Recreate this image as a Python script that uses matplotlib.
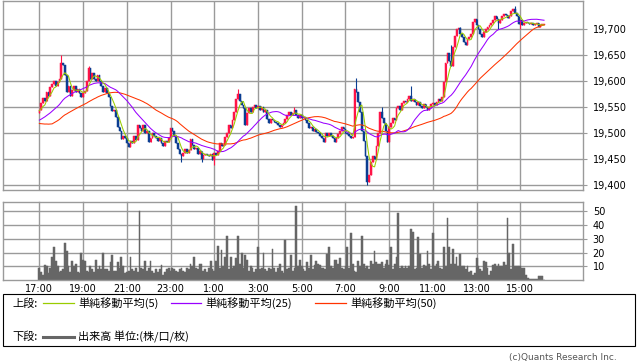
import numpy as np
import pandas as pd
import matplotlib
matplotlib.use("Agg")
import matplotlib.pyplot as plt
from matplotlib.patches import Rectangle
from matplotlib.lines import Line2D
from matplotlib.ticker import FuncFormatter

# 5-minute bars from 17:00 to the next afternoon

# closes before 17:00, only used to warm up the moving averages
prev_close = [19578, 19582, 19580, 19576, 19584, 19580, 19578,
              19500, 19492, 19488, 19485, 19480, 19478, 19482, 19486, 19480,
              19476, 19484, 19488, 19482, 19486, 19490, 19484, 19488, 19492,
              19510, 19512, 19508, 19515, 19512, 19518, 19515, 19520, 19516,
              19522, 19518, 19524, 19520, 19526, 19522, 19528, 19530, 19526,
              19532, 19535, 19540, 19545, 19548, 19538]

c17 = [19545, 19558, 19568, 19562, 19580, 19572, 19588, 19595, 19600, 19590, 19598, 19605]
c18 = [19635, 19632, 19612, 19580, 19590, 19572, 19583, 19590, 19580, 19585, 19578, 19570]
c19 = [19578, 19582, 19600, 19625, 19605, 19615, 19605, 19600, 19612, 19600, 19590, 19580]
c20 = [19586, 19578, 19570, 19552, 19542, 19545, 19532, 19512, 19505, 19488, 19495, 19490]
c21 = [19480, 19473, 19485, 19480, 19494, 19486, 19515, 19510, 19505, 19515, 19500, 19505]
c22 = [19482, 19490, 19500, 19495, 19490, 19485, 19490, 19480, 19475, 19485, 19482, 19490]
c23 = [19510, 19505, 19495, 19480, 19470, 19460, 19455, 19462, 19470, 19462, 19468, 19488]
c00 = [19478, 19470, 19472, 19460, 19465, 19450, 19458, 19460, 19458, 19455, 19460, 19448]
c01 = [19462, 19458, 19465, 19480, 19475, 19478, 19492, 19500, 19515, 19510, 19525, 19540]
c02 = [19565, 19575, 19562, 19555, 19548, 19515, 19538, 19548, 19540, 19550, 19555, 19548]
c03 = [19552, 19545, 19550, 19540, 19545, 19528, 19520, 19528, 19525, 19522, 19520, 19515]
c04 = [19512, 19515, 19520, 19528, 19535, 19540, 19535, 19538, 19545, 19535, 19530, 19535]
c05 = [19530, 19532, 19525, 19520, 19510, 19512, 19505, 19508, 19502, 19500, 19495, 19490]
c06 = [19482, 19500, 19495, 19500, 19495, 19490, 19482, 19490, 19498, 19505, 19512, 19508]
c07 = [19500, 19498, 19495, 19490, 19492, 19585, 19580, 19560, 19540, 19505, 19485, 19455]
c08 = [19405, 19420, 19445, 19455, 19450, 19475, 19500, 19540, 19530, 19520, 19505, 19482]
c09 = [19512, 19520, 19530, 19525, 19548, 19552, 19545, 19558, 19562, 19560, 19565, 19572]
c10 = [19562, 19565, 19560, 19555, 19560, 19552, 19548, 19556, 19550, 19545, 19550, 19556]
c11 = [19558, 19555, 19560, 19565, 19562, 19570, 19598, 19635, 19655, 19638, 19630, 19665]
c12 = [19688, 19700, 19702, 19690, 19685, 19675, 19670, 19682, 19685, 19690, 19715, 19720]
c13 = [19708, 19700, 19690, 19685, 19695, 19700, 19705, 19708, 19712, 19718, 19726, 19720]
c14 = [19712, 19718, 19726, 19730, 19728, 19722, 19725, 19735, 19740, 19732, 19725, 19710]
c15 = [19718, 19708, 19712, 19715, 19712, 19710, 19712, 19708, 19710, 19712, 19705, 19708, 19708, 19708]

v17 = [9, 6, 4, 11, 10, 5, 9, 17, 24, 14, 10, 6]
v18 = [7, 8, 27, 21, 10, 6, 14, 10, 12, 6, 5, 20]
v19 = [15, 14, 7, 6, 10, 8, 6, 15, 8, 10, 8, 20]
v20 = [8, 8, 7, 13, 18, 7, 7, 13, 9, 17, 10, 5]
v21 = [6, 7, 17, 8, 7, 9, 6, 50, 9, 8, 14, 7]
v22 = [9, 14, 7, 5, 8, 6, 8, 11, 4, 6, 8, 9]
v23 = [7, 9, 8, 7, 6, 8, 9, 7, 6, 9, 8, 12]
v00 = [10, 17, 9, 8, 12, 12, 7, 8, 6, 9, 14, 8]
v01 = [7, 14, 25, 9, 22, 10, 17, 32, 8, 17, 9, 10]
v02 = [16, 32, 12, 20, 9, 18, 15, 7, 10, 9, 6, 8]
v03 = [24, 8, 9, 20, 8, 7, 9, 8, 23, 9, 6, 9]
v04 = [12, 7, 5, 29, 8, 9, 18, 7, 9, 54, 10, 15]
v05 = [10, 8, 7, 13, 9, 18, 8, 11, 14, 12, 11, 9]
v06 = [9, 8, 19, 24, 10, 9, 15, 15, 12, 16, 9, 8]
v07 = [10, 24, 9, 34, 12, 7, 6, 14, 10, 32, 12, 9]
v08 = [10, 8, 14, 12, 21, 13, 12, 12, 13, 9, 12, 15]
v09 = [11, 24, 8, 12, 17, 49, 9, 10, 9, 10, 9, 10]
v10 = [37, 35, 8, 9, 31, 19, 9, 11, 10, 21, 12, 8]
v11 = [34, 10, 12, 14, 9, 8, 24, 10, 45, 24, 12, 23]
v12 = [12, 17, 10, 19, 10, 10, 8, 10, 6, 7, 4, 5]
v13 = [16, 10, 8, 7, 14, 13, 9, 4, 7, 11, 12, 10]
v14 = [12, 10, 10, 13, 11, 45, 20, 8, 26, 10, 10, 10]
v15 = [10, 9, 9, 4, 2, 1, 1, 1, 1, 1, 3, 3, 3, 0]

# wicks that stick out (bar index, price)
hi_idx = [12, 27, 109, 140, 174, 188, 204, 226, 231, 261]
hi_val = [19650, 19630, 19585, 19550, 19606, 19550, 19590, 19670, 19705, 19745]
lo_idx = [78, 89, 96, 180, 252, 264]
lo_val = [19444, 19444, 19438, 19400, 19700, 19700]

tick_labels = ["17:00", "19:00", "21:00", "23:00", "1:00", "3:00",
               "5:00", "7:00", "9:00", "11:00", "13:00", "15:00"]
bars_per_tick = 24

close = (c17 + c18 + c19 + c20 + c21 + c22 + c23 + c00 + c01 + c02 + c03 + c04 +
         c05 + c06 + c07 + c08 + c09 + c10 + c11 + c12 + c13 + c14 + c15)
volume = (v17 + v18 + v19 + v20 + v21 + v22 + v23 + v00 + v01 + v02 + v03 + v04 +
          v05 + v06 + v07 + v08 + v09 + v10 + v11 + v12 + v13 + v14 + v15)

UP = "#ff1447"
DOWN = "#0b3d91"
GRID = "#9a9a9a"
JP = ["Noto Sans CJK JP", "DejaVu Sans"]

c = np.array(close, dtype=float)
o = np.concatenate([[prev_close[-1]], c[:-1]])
hi = np.maximum(o, c)
lo = np.minimum(o, c)
for k, v in zip(hi_idx, hi_val):
    hi[k] = v
for k, v in zip(lo_idx, lo_val):
    lo[k] = v
x = np.arange(len(c))
col = np.where(c >= o, UP, DOWN)

s = pd.Series(prev_close + close, dtype=float)
n0 = len(prev_close)
ma5 = s.rolling(5).mean().to_numpy()[n0:]
ma25 = s.rolling(25).mean().to_numpy()[n0:]
ma50 = s.rolling(50).mean().to_numpy()[n0:]

W, H = 638, 362
fig = plt.figure(figsize=(W / 100, H / 100), dpi=100)
fig.patch.set_facecolor("white")

x0, x1 = 3.3, 583
ax = fig.add_axes([x0 / W, 1 - 190 / H, (x1 - x0) / W, (190 - 0.5) / H])
axv = fig.add_axes([x0 / W, 1 - 280.3 / H, (x1 - x0) / W, (280.3 - 201.5) / H])

xmin, xmax = -19.8, 298.4
tick_pos = np.arange(len(tick_labels)) * bars_per_tick

# price panel
ax.bar(x, np.maximum(np.abs(c - o), 1.5), bottom=np.minimum(o, c), width=0.9,
       color=col, edgecolor=col, linewidth=0.35, zorder=2)
ax.vlines(x, lo, hi, colors=col, linewidth=0.8, zorder=2)
ax.plot(x, ma50, color="#ff3300", linewidth=0.75, zorder=3)
ax.plot(x, ma25, color="#9900ff", linewidth=0.75, zorder=3)
ax.plot(x, ma5, color="#99cc00", linewidth=0.75, zorder=4)

ax.set_xlim(xmin, xmax)
ax.set_ylim(19390.4, 19755.5)
ax.set_yticks(np.arange(19400, 19701, 50))
ax.yaxis.set_major_formatter(FuncFormatter(lambda v, p: f"{v:,.0f}"))
ax.yaxis.tick_right()
ax.set_xticks(tick_pos)
ax.set_xticklabels([])
ax.tick_params(axis="x", length=0)
ax.tick_params(axis="y", length=3, color=GRID, labelsize=7, pad=4)
ax.grid(True, color=GRID, linewidth=1.0)
ax.set_axisbelow(True)
for sp in ax.spines.values():
    sp.set_color(GRID)
    sp.set_linewidth(1.0)

# volume panel
axv.bar(x, volume, width=1.0, color="#666666", edgecolor="#666666",
        linewidth=0.35, zorder=2)
axv.set_xlim(xmin, xmax)
axv.set_ylim(0, 57)
axv.set_yticks([10, 20, 30, 40, 50])
axv.yaxis.tick_right()
axv.set_xticks(tick_pos)
axv.set_xticklabels(tick_labels)
axv.tick_params(axis="x", length=0, labelsize=7, pad=3)
axv.tick_params(axis="y", length=3, color=GRID, labelsize=7, pad=4)
axv.grid(True, color=GRID, linewidth=1.0)
axv.set_axisbelow(True)
for sp in axv.spines.values():
    sp.set_color(GRID)
    sp.set_linewidth(1.0)

# legend box
fig.add_artist(Rectangle((x0 / W, 1 - 346 / H), (635 - x0) / W, (346 - 294.3) / H,
                         transform=fig.transFigure, fill=False,
                         edgecolor="black", linewidth=0.8))

def fx(px):
    return px / W

def fy(py):
    return 1 - py / H

row1, row2 = 303.3, 336.7
fig.text(fx(12), fy(row1), "上段:", family=JP, fontsize=8, va="center")
for lx, txt, lc in [(43.3, "単純移動平均(5)", "#99cc00"),
                    (170.7, "単純移動平均(25)", "#9900ff"),
                    (315, "単純移動平均(50)", "#ff3300")]:
    fig.add_artist(Line2D([fx(lx), fx(lx + 30.5)], [fy(row1), fy(row1)],
                          transform=fig.transFigure, color=lc, linewidth=0.9))
    fig.text(fx(lx + 35), fy(row1), txt, family=JP, fontsize=8, va="center")

fig.text(fx(12), fy(row2), "下段:", family=JP, fontsize=8, va="center")
fig.add_artist(Line2D([fx(43.3), fx(73.8)], [fy(row2), fy(row2)],
                      transform=fig.transFigure, color="#666666", linewidth=2.2))
fig.text(fx(78.3), fy(row2), "出来高 単位:(株/口/枚)", family=JP, fontsize=8, va="center")

fig.text(fx(617), fy(357.5), "(c)Quants Research Inc.", fontsize=6.5,
         color="#555555", ha="right", va="center")

fig.savefig("out.png", dpi=100)
